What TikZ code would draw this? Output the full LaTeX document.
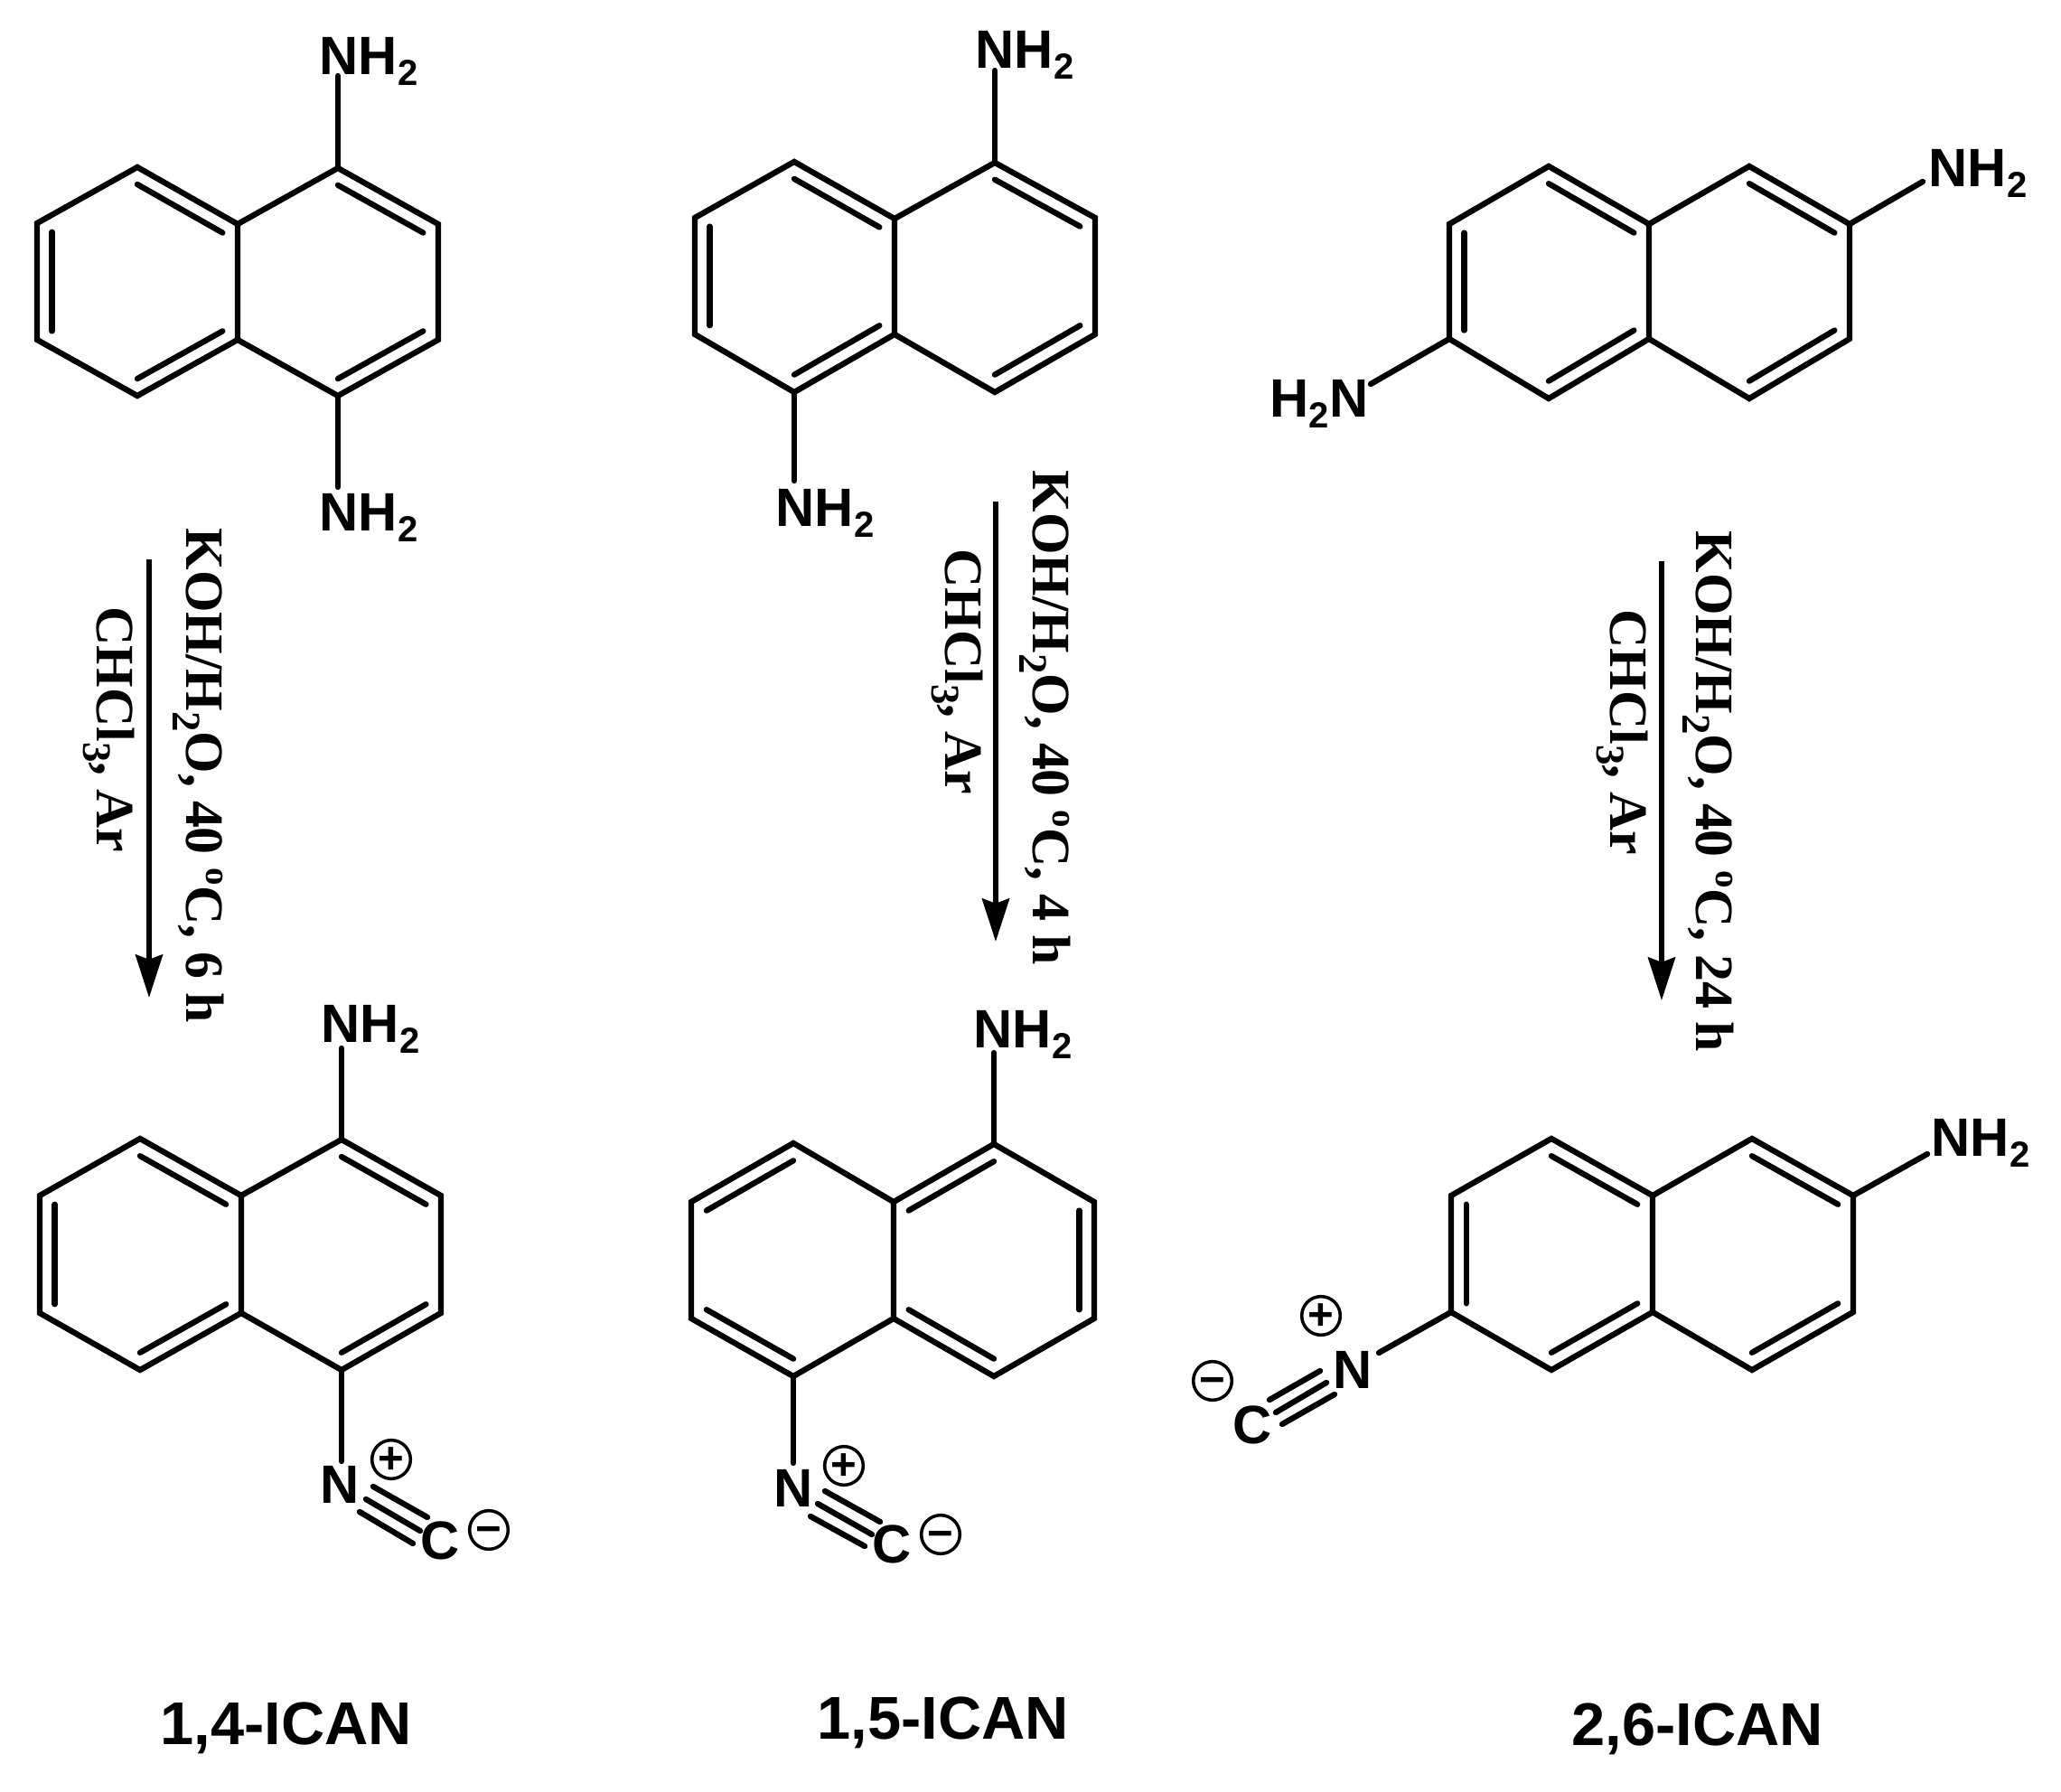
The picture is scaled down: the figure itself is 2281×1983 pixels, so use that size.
\documentclass[tikz,border=0pt]{standalone}
\usepackage{fontspec}
\setmainfont{Liberation Sans}
\newfontfamily\reagfont{Liberation Serif}
\usetikzlibrary{arrows.meta,calc}

\newcommand{\low}[1]{\raisebox{-.2em}{\scalebox{.67}{#1}}}
\newcommand{\lowr}[1]{\raisebox{-.24em}{\scalebox{.75}{#1}}}
\newcommand{\upr}[1]{\raisebox{.37em}{\scalebox{.65}{#1}}}
\newcommand{\innerbond}[3]{\draw[bond] ($(#1)!.15!(#3)$) -- ($(#2)!.15!(#3)$);}

\tikzset{
  bond/.style={line width=1.8pt,line cap=round},
  rxn/.style={line width=1.7pt,-{Stealth[length=13.5pt,width=8.5pt,inset=1.5pt]}},
  atomlab/.style={anchor=base west,inner sep=0pt,font=\fontsize{17}{20}\selectfont\bfseries},
  reagent/.style={anchor=base west,inner sep=0pt,rotate=-90,font=\fontsize{17}{20}\selectfont\reagfont\bfseries},
  namelab/.style={anchor=base west,inner sep=0pt,font=\fontsize{19}{22}\selectfont\bfseries},
  chg/.style={circle,draw,line width=1pt,inner sep=0pt,minimum size=10.8pt,text height=9pt,text depth=0pt,font=\fontsize{14}{15}\selectfont\bfseries}
}

\begin{document}
\begin{tikzpicture}[x=0.01cm,y=-0.01cm]
\useasboundingbox (0,0) rectangle (2281,1983);

%% 1,4 diamine, vertices
\coordinate (a1) at (152,185);  \coordinate (a2) at (41,247);   \coordinate (a3) at (41,376);
\coordinate (a4) at (152,438);  \coordinate (a5) at (263,248);  \coordinate (a6) at (263,376);
\coordinate (a7) at (374,186);  \coordinate (a8) at (485,248);  \coordinate (a9) at (485,376);
\coordinate (a10) at (374,438); \coordinate (acl) at (152,312); \coordinate (acr) at (374,312);
\coordinate (aup) at (374,84);  \coordinate (adn) at (374,539);

%% 1,4 diamine, bonds
\draw[bond] (a1) -- (a2) -- (a3) -- (a4) -- (a6) -- (a5) -- cycle;
\draw[bond] (a5) -- (a7) -- (a8) -- (a9) -- (a10) -- (a6);
\draw[bond] (a7) -- (aup);
\draw[bond] (a10) -- (adn);
\innerbond{a1}{a5}{acl}
\innerbond{a2}{a3}{acl}
\innerbond{a4}{a6}{acl}
\innerbond{a7}{a8}{acr}
\innerbond{a9}{a10}{acr}

%% 1,4 diamine, labels
\node[atomlab] (anha) at (353,83) {NH\low{2}};
\node[atomlab] (anhb) at (353,588) {NH\low{2}};

%% 1,5 diamine, vertices
\coordinate (b1) at (879,179);   \coordinate (b2) at (769,241);   \coordinate (b3) at (769,370);
\coordinate (b4) at (879,434);   \coordinate (b5) at (990,242);   \coordinate (b6) at (990,370);
\coordinate (b7) at (1101,180);  \coordinate (b8) at (1212,241);  \coordinate (b9) at (1212,370);
\coordinate (b10) at (1101,434); \coordinate (bcl) at (879,305);  \coordinate (bcr) at (1101,305);
\coordinate (bup) at (1101,78);  \coordinate (bdn) at (879,532);

%% 1,5 diamine, bonds
\draw[bond] (b1) -- (b2) -- (b3) -- (b4) -- (b6) -- (b5) -- cycle;
\draw[bond] (b5) -- (b7) -- (b8) -- (b9) -- (b10) -- (b6);
\draw[bond] (b7) -- (bup);
\draw[bond] (b4) -- (bdn);
\innerbond{b1}{b5}{bcl}
\innerbond{b2}{b3}{bcl}
\innerbond{b4}{b6}{bcl}
\innerbond{b7}{b8}{bcr}
\innerbond{b9}{b10}{bcr}

%% 1,5 diamine, labels
\node[atomlab] (bnha) at (1079,76) {NH\low{2}};
\node[atomlab] (bnhb) at (858,583) {NH\low{2}};

%% 2,6 diamine, vertices
\coordinate (c1) at (1714,184);  \coordinate (c2) at (1604,248);  \coordinate (c3) at (1604,375);
\coordinate (c4) at (1714,441);  \coordinate (c5) at (1825,248);  \coordinate (c6) at (1825,375);
\coordinate (c7) at (1936,184);  \coordinate (c8) at (2047,248);  \coordinate (c9) at (2047,375);
\coordinate (c10) at (1936,441); \coordinate (ccl) at (1714,312); \coordinate (ccr) at (1936,312);
\coordinate (cup) at (2128,201); \coordinate (cdn) at (1517,425);

%% 2,6 diamine, bonds
\draw[bond] (c1) -- (c2) -- (c3) -- (c4) -- (c6) -- (c5) -- cycle;
\draw[bond] (c5) -- (c7) -- (c8) -- (c9) -- (c10) -- (c6);
\draw[bond] (c8) -- (cup);
\draw[bond] (c3) -- (cdn);
\innerbond{c1}{c5}{ccl}
\innerbond{c2}{c3}{ccl}
\innerbond{c4}{c6}{ccl}
\innerbond{c7}{c8}{ccr}
\innerbond{c9}{c10}{ccr}

%% 2,6 diamine, labels
\node[atomlab] (cnha) at (2134,207) {NH\low{2}};
\node[atomlab] (cnhb) at (1405,462) {H\low{2}N};

%% reaction arrows
\coordinate (ra) at (165,619);  \coordinate (rae) at (165,1104);
\coordinate (rb) at (1102,555); \coordinate (rbe) at (1102,1042);
\coordinate (rc) at (1839,621); \coordinate (rce) at (1839,1107);
\draw[rxn] (ra) -- (rae);
\draw[rxn] (rb) -- (rbe);
\draw[rxn] (rc) -- (rce);

%% conditions
\node[reagent] (ka) at (206,584) {KOH/H\lowr{2}O, 40 \upr{o}C, 6 h};
\node[reagent] (cha) at (107,671) {CHCl\lowr{3}, Ar};
\node[reagent] (kb) at (1143,520) {KOH/H\lowr{2}O, 40 \upr{o}C, 4 h};
\node[reagent] (chb) at (1046,607) {CHCl\lowr{3}, Ar};
\node[reagent] (kc) at (1877,587) {KOH/H\lowr{2}O, 40 \upr{o}C, 24 h};
\node[reagent] (chc) at (1782,674) {CHCl\lowr{3}, Ar};

%% 1,4-ICAN, vertices
\coordinate (d1) at (155,1260);  \coordinate (d2) at (44,1323);   \coordinate (d3) at (44,1453);
\coordinate (d4) at (155,1516);  \coordinate (d5) at (267,1323);  \coordinate (d6) at (267,1453);
\coordinate (d7) at (378,1261);  \coordinate (d8) at (488,1323);  \coordinate (d9) at (488,1453);
\coordinate (d10) at (378,1516); \coordinate (dcl) at (155,1388); \coordinate (dcr) at (378,1388);
\coordinate (dup) at (378,1160); \coordinate (ddn) at (378,1617);

%% 1,4-ICAN, bonds
\draw[bond] (d1) -- (d2) -- (d3) -- (d4) -- (d6) -- (d5) -- cycle;
\draw[bond] (d5) -- (d7) -- (d8) -- (d9) -- (d10) -- (d6);
\draw[bond] (d7) -- (dup);
\draw[bond] (d10) -- (ddn);
\innerbond{d1}{d5}{dcl}
\innerbond{d2}{d3}{dcl}
\innerbond{d4}{d6}{dcl}
\innerbond{d7}{d8}{dcr}
\innerbond{d9}{d10}{dcr}

%% 1,4-ICAN, labels
\node[atomlab] (dnh) at (355,1154) {NH\low{2}};
\node[atomlab] (dn) at (354,1664) {N};
\node[atomlab] (dc) at (465,1725) {C};
\node[chg] (dp) at (433,1615) {+};
\node[chg] (dm) at (541,1693) {−};
\coordinate (dta) at (413,1645); \coordinate (dtb) at (473,1679);
\coordinate (dtc) at (405,1659); \coordinate (dtd) at (465,1694);
\coordinate (dte) at (398,1673); \coordinate (dtf) at (457,1708);
\draw[bond] (dta) -- (dtb);
\draw[bond] (dtc) -- (dtd);
\draw[bond] (dte) -- (dtf);
\node[namelab] (dname) at (177,1930) {1,4-ICAN};

%% 1,5-ICAN, vertices
\coordinate (e1) at (878,1265);  \coordinate (e2) at (765,1330);  \coordinate (e3) at (765,1459);
\coordinate (e4) at (878,1523);  \coordinate (e5) at (989,1330);  \coordinate (e6) at (989,1459);
\coordinate (e7) at (1100,1266); \coordinate (e8) at (1211,1330); \coordinate (e9) at (1211,1459);
\coordinate (e10) at (1100,1523);\coordinate (ecl) at (878,1394); \coordinate (ecr) at (1100,1394);
\coordinate (eup) at (1100,1165);\coordinate (edn) at (878,1619);

%% 1,5-ICAN, bonds
\draw[bond] (e1) -- (e2) -- (e3) -- (e4) -- (e6) -- (e5) -- cycle;
\draw[bond] (e5) -- (e7) -- (e8) -- (e9) -- (e10) -- (e6);
\draw[bond] (e7) -- (eup);
\draw[bond] (e4) -- (edn);
\innerbond{e1}{e2}{ecl}
\innerbond{e3}{e4}{ecl}
\innerbond{e5}{e7}{ecr}
\innerbond{e8}{e9}{ecr}
\innerbond{e6}{e10}{ecr}

%% 1,5-ICAN, labels
\node[atomlab] (enh) at (1077,1160) {NH\low{2}};
\node[atomlab] (en) at (856,1668) {N};
\node[atomlab] (ec) at (965,1730) {C};
\node[chg] (ep) at (934,1622) {+};
\node[chg] (em) at (1041,1698) {−};
\coordinate (eta) at (913,1650); \coordinate (etb) at (974,1684);
\coordinate (etc) at (905,1664); \coordinate (etd) at (965,1698);
\coordinate (ete) at (897,1678); \coordinate (etf) at (957,1711);
\draw[bond] (eta) -- (etb);
\draw[bond] (etc) -- (etd);
\draw[bond] (ete) -- (etf);
\node[namelab] (ename) at (904,1924) {1,5-ICAN};

%% 2,6-ICAN, vertices
\coordinate (f1) at (1717,1260);  \coordinate (f2) at (1606,1323);  \coordinate (f3) at (1606,1452);
\coordinate (f4) at (1717,1516);  \coordinate (f5) at (1829,1323);  \coordinate (f6) at (1829,1452);
\coordinate (f7) at (1939,1260);  \coordinate (f8) at (2051,1323);  \coordinate (f9) at (2051,1452);
\coordinate (f10) at (1939,1516); \coordinate (fcl) at (1717,1388); \coordinate (fcr) at (1939,1388);
\coordinate (fup) at (2133,1277); \coordinate (fdn) at (1526,1497);

%% 2,6-ICAN, bonds
\draw[bond] (f1) -- (f2) -- (f3) -- (f4) -- (f6) -- (f5) -- cycle;
\draw[bond] (f5) -- (f7) -- (f8) -- (f9) -- (f10) -- (f6);
\draw[bond] (f8) -- (fup);
\draw[bond] (f3) -- (fdn);
\innerbond{f1}{f5}{fcl}
\innerbond{f2}{f3}{fcl}
\innerbond{f4}{f6}{fcl}
\innerbond{f7}{f8}{fcr}
\innerbond{f9}{f10}{fcr}

%% 2,6-ICAN, labels
\node[atomlab] (fnh) at (2137,1280) {NH\low{2}};
\node[atomlab] (fn) at (1475,1537) {N};
\node[atomlab] (fc) at (1364,1597) {C};
\node[chg] (fp) at (1462,1456) {+};
\node[chg] (fm) at (1342,1528) {−};
\coordinate (fta) at (1461,1517); \coordinate (ftb) at (1405,1549);
\coordinate (ftc) at (1468,1530); \coordinate (ftd) at (1412,1563);
\coordinate (fte) at (1477,1543); \coordinate (ftf) at (1419,1576);
\draw[bond] (fta) -- (ftb);
\draw[bond] (ftc) -- (ftd);
\draw[bond] (fte) -- (ftf);
\node[namelab] (fname) at (1739,1931) {2,6-ICAN};

\end{tikzpicture}
\end{document}
